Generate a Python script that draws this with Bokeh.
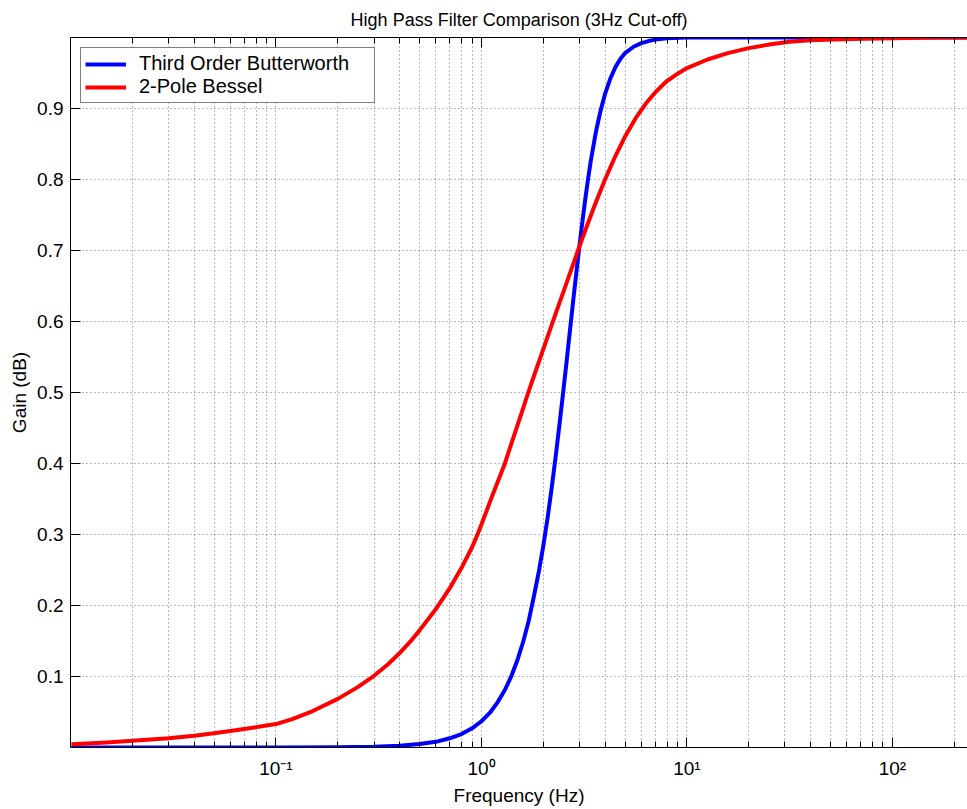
from bokeh.plotting import figure
from bokeh.models import (Range1d, FixedTicker, LogAxis, CustomJSTickFormatter)
from bokeh.embed import file_html
from bokeh.resources import INLINE

# ---------------- data ----------------
freq_butter = [0.0101, 0.1, 0.2, 0.3, 0.4, 0.5, 0.6, 0.7, 0.8, 0.9, 1.0, 1.1, 1.2,
               1.3, 1.4, 1.5, 1.6, 1.7, 1.8, 1.9, 2.0, 2.1, 2.2, 2.3, 2.4, 2.5,
               2.6, 2.7, 2.8, 2.9, 3.0, 3.1, 3.2, 3.3, 3.4, 3.5, 3.6, 3.7, 3.8,
               4.0, 4.25, 4.5, 4.75, 5.0, 5.5, 6.0, 6.5, 7.0, 8.0, 10.0, 240.0]
gain_butter = [0.0, 0.0, 0.0003, 0.001, 0.0024, 0.005, 0.008, 0.013, 0.019,
               0.027, 0.037, 0.049, 0.064, 0.081, 0.101, 0.124, 0.150, 0.179,
               0.213, 0.247, 0.284, 0.324, 0.367, 0.411, 0.456, 0.501, 0.545,
               0.589, 0.631, 0.670, 0.707, 0.741, 0.772, 0.800, 0.825, 0.846,
               0.866, 0.882, 0.897, 0.921, 0.943, 0.959, 0.970, 0.978, 0.987,
               0.992, 0.995, 0.997, 0.999, 1.0, 1.0]

freq_bessel = [0.0101, 0.015, 0.02, 0.03, 0.04, 0.05, 0.07, 0.1, 0.12, 0.15, 0.2,
               0.25, 0.3, 0.35, 0.4, 0.45, 0.5, 0.6, 0.7, 0.8, 0.9, 0.95, 1.0,
               1.12, 1.3, 1.41, 1.58, 1.69, 1.78, 2.0, 2.29, 2.63, 3.0, 3.16,
               3.55, 3.98, 4.47, 5.01, 5.62, 6.31, 7.08, 7.94, 8.91, 10.0, 12.6,
               15.8, 20.0, 25.1, 31.6, 39.8, 63.1, 100.0, 158.0, 240.0]
gain_bessel = [0.0046, 0.007, 0.0094, 0.013, 0.0165, 0.020, 0.026, 0.033, 0.040,
               0.051, 0.0685, 0.085, 0.101, 0.117, 0.133, 0.149, 0.165, 0.195,
               0.224, 0.253, 0.282, 0.298, 0.314, 0.352, 0.400, 0.431, 0.474,
               0.500, 0.519, 0.561, 0.610, 0.659, 0.706, 0.724, 0.763, 0.799,
               0.832, 0.861, 0.886, 0.907, 0.924, 0.938, 0.948, 0.957, 0.969,
               0.978, 0.985, 0.990, 0.994, 0.996, 0.998, 0.999, 1.0, 1.0]

series_names = ["Third Order Butterworth", "2-Pole Bessel"]
series_colors = ["#0000ff", "#ff0000"]

x_major_ticks = [0.1, 1.0, 10.0, 100.0]
x_major_labels = ["10\u207b\u00b9", "10\u2070", "10\u00b9", "10\u00b2"]
x_minor_ticks = [0.02, 0.03, 0.04, 0.05, 0.06, 0.07, 0.08, 0.09,
                 0.2, 0.3, 0.4, 0.5, 0.6, 0.7, 0.8, 0.9,
                 2, 3, 4, 5, 6, 7, 8, 9,
                 20, 30, 40, 50, 60, 70, 80, 90,
                 200]
y_ticks = [0.1, 0.2, 0.3, 0.4, 0.5, 0.6, 0.7, 0.8, 0.9]

title_text = "High Pass Filter Comparison (3Hz Cut-off)"
x_label = "Frequency (Hz)"
y_label = "Gain (dB)"

FONT = "Liberation Sans"

# ---------------- figure ----------------
p = figure(width=967, height=809, x_axis_type="log",
           x_range=Range1d(0.01, 232), y_range=Range1d(0, 1),
           output_backend="svg", toolbar_location=None,
           min_border_left=70, min_border_right=0,
           min_border_top=37, min_border_bottom=62,
           title=title_text)
p.outline_line_color = None
p.background_fill_color = "white"
p.border_fill_color = "white"

p.title.text_font = FONT
p.title.text_font_size = "18px"
p.title.text_font_style = "normal"
p.title.align = "center"
p.title.standoff = 15
p.title.text_color = "#000000"

xticker = FixedTicker(ticks=x_major_ticks, minor_ticks=x_minor_ticks)
yticker = FixedTicker(ticks=y_ticks, minor_ticks=[])

xa = p.xaxis[0]
xa.ticker = xticker
xa.major_label_overrides = {t: l for t, l in zip(x_major_ticks, x_major_labels)}
xa.major_tick_in = 10
xa.major_tick_out = 0
xa.minor_tick_in = 6
xa.minor_tick_out = 0
xa.major_label_standoff = 10
xa.axis_label = x_label
xa.axis_label_standoff = 3
xa.axis_label_text_font = FONT
xa.axis_label_text_font_size = "19px"
xa.axis_label_text_font_style = "normal"
xa.axis_label_text_color = "#000000"
xa.major_label_text_font = FONT
xa.major_label_text_font_size = "19px"
xa.major_label_text_color = "#000000"
xa.axis_line_color = "black"
xa.major_tick_line_color = "black"
xa.minor_tick_line_color = "black"

ya = p.yaxis[0]
ya.ticker = yticker
ya.major_tick_in = 10
ya.major_tick_out = 0
ya.minor_tick_line_color = None
ya.major_label_standoff = 7
ya.axis_label = y_label
ya.axis_label_standoff = 4
ya.axis_label_text_font = FONT
ya.axis_label_text_font_size = "19px"
ya.axis_label_text_font_style = "normal"
ya.axis_label_text_color = "#000000"
ya.major_label_text_font = FONT
ya.major_label_text_font_size = "19px"
ya.major_label_text_color = "#000000"
ya.axis_line_color = "black"
ya.major_tick_line_color = "black"

# top axis: only the border line and inward ticks (MATLAB box style)
top = LogAxis(ticker=xticker, major_tick_in=10, major_tick_out=0,
              minor_tick_in=6, minor_tick_out=0,
              formatter=CustomJSTickFormatter(code="return ''"),
              major_label_text_font_size="0px", major_label_standoff=0,
              axis_line_color="black", major_tick_line_color="black",
              minor_tick_line_color="black")
p.add_layout(top, "above")

for g in (p.xgrid[0], p.ygrid[0]):
    g.grid_line_color = "black"
    g.grid_line_alpha = 0.55
    g.grid_line_dash = "1 3"
    g.grid_line_width = 1
p.xgrid[0].minor_grid_line_color = "black"
p.xgrid[0].minor_grid_line_alpha = 0.55
p.xgrid[0].minor_grid_line_dash = "1 3"

p.line(freq_butter, gain_butter, line_color=series_colors[0], line_width=4,
       line_join="round", legend_label=series_names[0])
p.line(freq_bessel, gain_bessel, line_color=series_colors[1], line_width=4,
       line_join="round", legend_label=series_names[1])

lg = p.legend[0]
lg.location = "top_left"
lg.margin = 10
lg.padding = 4
lg.spacing = 0
lg.glyph_width = 41
lg.glyph_height = 20
lg.label_height = 20
lg.label_width = 231
lg.label_standoff = 13
lg.label_text_font = FONT
lg.label_text_font_size = "20px"
lg.label_text_color = "#000000"
lg.border_line_color = "black"
lg.border_line_width = 1
lg.background_fill_color = "white"
lg.background_fill_alpha = 1.0

open("out.html", "w").write(file_html(p, INLINE))
